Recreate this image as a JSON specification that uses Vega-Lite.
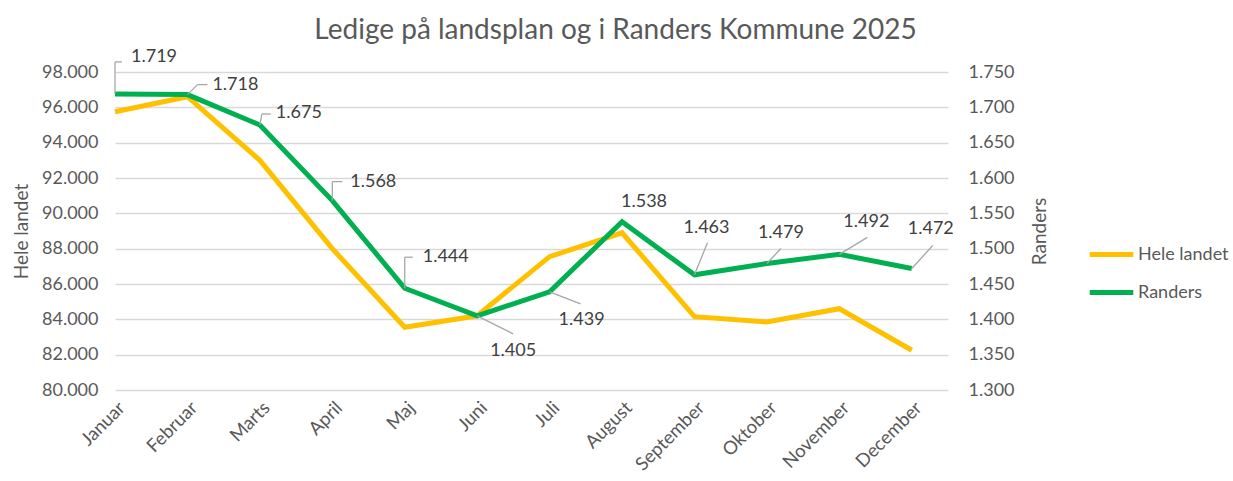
{
  "$schema": "https://vega.github.io/schema/vega-lite/v6.json",
  "width": 833,
  "height": 318,
  "autosize": {"type": "none"},
  "padding": {"left": 115, "top": 72, "right": 285, "bottom": 91},
  "background": "white",
  "config": {
    "font": "Lato",
    "view": {"stroke": null},
    "locale": {"number": {"decimal": ",", "thousands": ".", "grouping": [3], "currency": ["", " kr"]}},
    "axis": {"labelColor": "#595959", "titleColor": "#595959", "labelFont": "Lato", "titleFont": "Lato", "titleFontWeight": "normal", "ticks": false, "domain": false}
  },
  "title": {"text": "Ledige på landsplan og i Randers Kommune 2025", "font": "Lato", "fontSize": 28, "fontWeight": "normal", "color": "#595959", "anchor": "middle", "frame": "group", "dx": 84, "offset": 3},
  "data": {"values": [
    {"month": "Januar", "hele": 95750, "randers": 1719},
    {"month": "Februar", "hele": 96600, "randers": 1718},
    {"month": "Marts", "hele": 93000, "randers": 1675},
    {"month": "April", "hele": 88000, "randers": 1568},
    {"month": "Maj", "hele": 83550, "randers": 1444},
    {"month": "Juni", "hele": 84200, "randers": 1405},
    {"month": "Juli", "hele": 87550, "randers": 1439},
    {"month": "August", "hele": 88900, "randers": 1538},
    {"month": "September", "hele": 84150, "randers": 1463},
    {"month": "Oktober", "hele": 83850, "randers": 1479},
    {"month": "November", "hele": 84600, "randers": 1492},
    {"month": "December", "hele": 82250, "randers": 1472}
  ]},
  "encoding": {
    "x": {"field": "month", "type": "ordinal",
      "sort": ["Januar", "Februar", "Marts", "April", "Maj", "Juni", "Juli", "August", "September", "Oktober", "November", "December"],
      "scale": {"type": "point", "padding": 0.25, "align": 0},
      "axis": {"title": null, "labelAngle": -45, "labelAlign": "right", "labelBaseline": "top", "labelFontSize": 18.5, "labelPadding": 8, "grid": false}}
  },
  "layer": [
    {
      "mark": {"type": "line", "strokeWidth": 5},
      "encoding": {
        "y": {"field": "hele", "type": "quantitative",
          "scale": {"domain": [80000, 98000], "nice": false, "zero": false},
          "axis": {"title": "Hele landet", "titleFontSize": 19, "titlePadding": 10, "labelFontSize": 18, "labelPadding": 17, "format": ",d",
            "values": [80000, 82000, 84000, 86000, 88000, 90000, 92000, 94000, 96000, 98000],
            "grid": true, "gridColor": "#d9d9d9", "gridWidth": 1.3}},
        "color": {"datum": "Hele landet", "type": "nominal",
          "scale": {"domain": ["Hele landet", "Randers"], "range": ["#FFC000", "#00B050"]},
          "legend": {"title": null, "orient": "none", "legendX": 972, "legendY": 158, "symbolType": "stroke", "symbolSize": 1900, "symbolStrokeWidth": 5, "labelFontSize": 18, "labelColor": "#595959", "labelOffset": 2, "rowPadding": 3}}
      }
    },
    {
      "encoding": {
        "y": {"field": "randers", "type": "quantitative",
          "scale": {"domain": [1300, 1750], "nice": false, "zero": false},
          "axis": {"orient": "right", "title": "Randers", "titleAngle": 270, "titleBaseline": "top", "titleFontSize": 19, "titlePadding": 16, "labelFontSize": 18, "labelPadding": 20, "format": ",d",
            "values": [1300, 1350, 1400, 1450, 1500, 1550, 1600, 1650, 1700, 1750], "grid": false}}
      },
      "layer": [
        {"mark": {"type": "line", "strokeWidth": 5}, "encoding": {"color": {"datum": "Randers", "type": "nominal"}}},
        {"transform": [{"filter": "datum.month === 'Januar'"}], "layer": [
          {"mark": {"type": "rule", "color": "#a6a6a6", "strokeWidth": 1.3, "x2Offset": 0, "y2Offset": -32}, "encoding": {"x2": {"field": "month"}, "y2": {"field": "randers"}}},
          {"mark": {"type": "rule", "color": "#a6a6a6", "strokeWidth": 1.3, "yOffset": -32, "x2Offset": 7, "y2Offset": -32}, "encoding": {"x2": {"field": "month"}, "y2": {"field": "randers"}}},
          {"mark": {"type": "text", "align": "left", "baseline": "middle", "dx": 16, "dy": -37, "fontSize": 18, "color": "#404040"}, "encoding": {"text": {"field": "randers", "type": "quantitative", "format": ",d"}}}
        ]},
        {"transform": [{"filter": "datum.month === 'Februar'"}], "layer": [
          {"mark": {"type": "rule", "color": "#a6a6a6", "strokeWidth": 1.3, "x2Offset": 10, "y2Offset": -10}, "encoding": {"x2": {"field": "month"}, "y2": {"field": "randers"}}},
          {"mark": {"type": "rule", "color": "#a6a6a6", "strokeWidth": 1.3, "xOffset": 10, "yOffset": -10, "x2Offset": 20, "y2Offset": -10}, "encoding": {"x2": {"field": "month"}, "y2": {"field": "randers"}}},
          {"mark": {"type": "text", "align": "left", "baseline": "middle", "dx": 25, "dy": -10, "fontSize": 18, "color": "#404040"}, "encoding": {"text": {"field": "randers", "type": "quantitative", "format": ",d"}}}
        ]},
        {"transform": [{"filter": "datum.month === 'Marts'"}], "layer": [
          {"mark": {"type": "rule", "color": "#a6a6a6", "strokeWidth": 1.3, "x2Offset": 2, "y2Offset": -11}, "encoding": {"x2": {"field": "month"}, "y2": {"field": "randers"}}},
          {"mark": {"type": "rule", "color": "#a6a6a6", "strokeWidth": 1.3, "xOffset": 2, "yOffset": -11, "x2Offset": 11, "y2Offset": -11}, "encoding": {"x2": {"field": "month"}, "y2": {"field": "randers"}}},
          {"mark": {"type": "text", "align": "left", "baseline": "middle", "dx": 16, "dy": -12, "fontSize": 18, "color": "#404040"}, "encoding": {"text": {"field": "randers", "type": "quantitative", "format": ",d"}}}
        ]},
        {"transform": [{"filter": "datum.month === 'April'"}], "layer": [
          {"mark": {"type": "rule", "color": "#a6a6a6", "strokeWidth": 1.3, "x2Offset": 0, "y2Offset": -19}, "encoding": {"x2": {"field": "month"}, "y2": {"field": "randers"}}},
          {"mark": {"type": "rule", "color": "#a6a6a6", "strokeWidth": 1.3, "yOffset": -19, "x2Offset": 10, "y2Offset": -19}, "encoding": {"x2": {"field": "month"}, "y2": {"field": "randers"}}},
          {"mark": {"type": "text", "align": "left", "baseline": "middle", "dx": 18, "dy": -19, "fontSize": 18, "color": "#404040"}, "encoding": {"text": {"field": "randers", "type": "quantitative", "format": ",d"}}}
        ]},
        {"transform": [{"filter": "datum.month === 'Maj'"}], "layer": [
          {"mark": {"type": "rule", "color": "#a6a6a6", "strokeWidth": 1.3, "x2Offset": 0, "y2Offset": -31}, "encoding": {"x2": {"field": "month"}, "y2": {"field": "randers"}}},
          {"mark": {"type": "rule", "color": "#a6a6a6", "strokeWidth": 1.3, "yOffset": -31, "x2Offset": 8, "y2Offset": -31}, "encoding": {"x2": {"field": "month"}, "y2": {"field": "randers"}}},
          {"mark": {"type": "text", "align": "left", "baseline": "middle", "dx": 18, "dy": -31, "fontSize": 18, "color": "#404040"}, "encoding": {"text": {"field": "randers", "type": "quantitative", "format": ",d"}}}
        ]},
        {"transform": [{"filter": "datum.month === 'Juni'"}], "layer": [
          {"mark": {"type": "rule", "color": "#a6a6a6", "strokeWidth": 1.3, "x2Offset": 36, "y2Offset": 18}, "encoding": {"x2": {"field": "month"}, "y2": {"field": "randers"}}},
          {"mark": {"type": "text", "align": "center", "baseline": "middle", "dx": 36, "dy": 35, "fontSize": 18, "color": "#404040"}, "encoding": {"text": {"field": "randers", "type": "quantitative", "format": ",d"}}}
        ]},
        {"transform": [{"filter": "datum.month === 'Juli'"}], "layer": [
          {"mark": {"type": "rule", "color": "#a6a6a6", "strokeWidth": 1.3, "x2Offset": 31, "y2Offset": 12}, "encoding": {"x2": {"field": "month"}, "y2": {"field": "randers"}}},
          {"mark": {"type": "text", "align": "center", "baseline": "middle", "dx": 32, "dy": 28, "fontSize": 18, "color": "#404040"}, "encoding": {"text": {"field": "randers", "type": "quantitative", "format": ",d"}}}
        ]},
        {"transform": [{"filter": "datum.month === 'August'"}], "layer": [
          {"mark": {"type": "text", "align": "center", "baseline": "middle", "dx": 22, "dy": -20, "fontSize": 18, "color": "#404040"}, "encoding": {"text": {"field": "randers", "type": "quantitative", "format": ",d"}}}
        ]},
        {"transform": [{"filter": "datum.month === 'September'"}], "layer": [
          {"mark": {"type": "rule", "color": "#a6a6a6", "strokeWidth": 1.3, "x2Offset": 13, "y2Offset": -32}, "encoding": {"x2": {"field": "month"}, "y2": {"field": "randers"}}},
          {"mark": {"type": "text", "align": "center", "baseline": "middle", "dx": 12, "dy": -47, "fontSize": 18, "color": "#404040"}, "encoding": {"text": {"field": "randers", "type": "quantitative", "format": ",d"}}}
        ]},
        {"transform": [{"filter": "datum.month === 'Oktober'"}], "layer": [
          {"mark": {"type": "rule", "color": "#a6a6a6", "strokeWidth": 1.3, "x2Offset": 14, "y2Offset": -15}, "encoding": {"x2": {"field": "month"}, "y2": {"field": "randers"}}},
          {"mark": {"type": "text", "align": "center", "baseline": "middle", "dx": 14, "dy": -31, "fontSize": 18, "color": "#404040"}, "encoding": {"text": {"field": "randers", "type": "quantitative", "format": ",d"}}}
        ]},
        {"transform": [{"filter": "datum.month === 'November'"}], "layer": [
          {"mark": {"type": "rule", "color": "#a6a6a6", "strokeWidth": 1.3, "x2Offset": 28, "y2Offset": -17}, "encoding": {"x2": {"field": "month"}, "y2": {"field": "randers"}}},
          {"mark": {"type": "text", "align": "center", "baseline": "middle", "dx": 27, "dy": -32, "fontSize": 18, "color": "#404040"}, "encoding": {"text": {"field": "randers", "type": "quantitative", "format": ",d"}}}
        ]},
        {"transform": [{"filter": "datum.month === 'December'"}], "layer": [
          {"mark": {"type": "rule", "color": "#a6a6a6", "strokeWidth": 1.3, "x2Offset": 21, "y2Offset": -23}, "encoding": {"x2": {"field": "month"}, "y2": {"field": "randers"}}},
          {"mark": {"type": "text", "align": "center", "baseline": "middle", "dx": 19, "dy": -39, "fontSize": 18, "color": "#404040"}, "encoding": {"text": {"field": "randers", "type": "quantitative", "format": ",d"}}}
        ]}
      ]
    }
  ],
  "resolve": {"scale": {"y": "independent"}}
}
